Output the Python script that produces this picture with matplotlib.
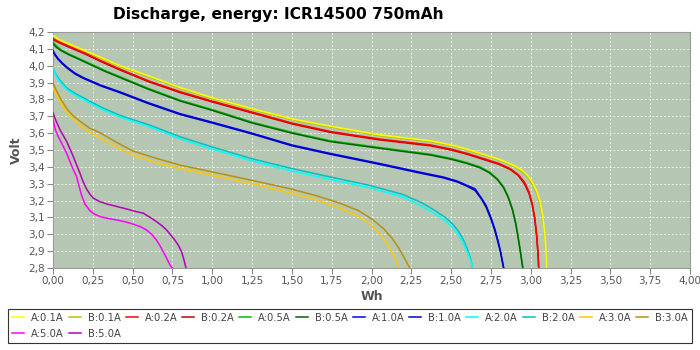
import matplotlib
matplotlib.use("Agg")
import matplotlib.pyplot as plt
from matplotlib.ticker import MultipleLocator, FuncFormatter

# series names / colours (legend order)
labels = ["A:0.1A", "B:0.1A", "A:0.2A", "B:0.2A", "A:0.5A", "B:0.5A",
          "A:1.0A", "B:1.0A", "A:2.0A", "B:2.0A", "A:3.0A", "B:3.0A",
          "A:5.0A", "B:5.0A"]
colors = ["#ffff00", "#c0c000", "#ff0000", "#c80000", "#00c000", "#006400",
          "#0000ff", "#0000c0", "#00ffff", "#00c0c0", "#ffc800", "#b8900c",
          "#ff00ff", "#b400b4"]

# energy (Wh) / voltage pairs
wh_01a = [0, 0.01, 0.03, 0.06, 0.1, 0.15, 0.2, 0.3, 0.42, 0.6, 0.8, 1.0, 1.25,
          1.5, 1.75, 2.05, 2.37, 2.5, 2.6, 2.7, 2.8, 2.88, 2.94, 2.98, 3.01,
          3.04, 3.06, 3.075, 3.088, 3.096, 3.10]
v_a01a = [4.18, 4.175, 4.16, 4.145, 4.13, 4.11, 4.09, 4.05, 4.00, 3.94, 3.87,
          3.81, 3.745, 3.685, 3.64, 3.59, 3.555, 3.53, 3.505, 3.475, 3.445,
          3.415, 3.385, 3.35, 3.31, 3.25, 3.19, 3.11, 3.00, 2.90, 2.80]
v_b01a = [4.175, 4.17, 4.155, 4.14, 4.125, 4.105, 4.085, 4.045, 3.995, 3.935,
          3.865, 3.805, 3.74, 3.68, 3.635, 3.585, 3.55, 3.525, 3.50, 3.47,
          3.44, 3.41, 3.375, 3.34, 3.295, 3.235, 3.17, 3.09, 2.98, 2.88, 2.80]

wh_02a = [0, 0.03, 0.1, 0.2, 0.3, 0.42, 0.6, 0.8, 1.0, 1.25, 1.5, 1.74, 2.05,
          2.37, 2.5, 2.6, 2.7, 2.8, 2.87, 2.92, 2.96, 2.99, 3.01, 3.025, 3.037,
          3.045, 3.05]
v_a02a = [4.16, 4.145, 4.115, 4.075, 4.03, 3.98, 3.91, 3.845, 3.79, 3.725,
          3.66, 3.61, 3.565, 3.53, 3.505, 3.48, 3.45, 3.42, 3.39, 3.355, 3.31,
          3.25, 3.18, 3.10, 3.00, 2.90, 2.80]
v_b02a = [4.155, 4.14, 4.11, 4.07, 4.025, 3.975, 3.905, 3.84, 3.785, 3.72,
          3.655, 3.605, 3.56, 3.525, 3.50, 3.475, 3.445, 3.415, 3.385, 3.35,
          3.30, 3.24, 3.17, 3.09, 2.99, 2.89, 2.80]

wh_05a = [0, 0.02, 0.05, 0.1, 0.17, 0.25, 0.33, 0.42, 0.6, 0.8, 1.0, 1.25,
          1.5, 1.74, 2.05, 2.37, 2.5, 2.6, 2.68, 2.74, 2.79, 2.83, 2.86, 2.885,
          2.905, 2.92, 2.935, 2.95]
v_a05a = [4.14, 4.12, 4.095, 4.07, 4.04, 4.005, 3.97, 3.935, 3.865, 3.795,
          3.74, 3.665, 3.605, 3.555, 3.515, 3.475, 3.45, 3.425, 3.40, 3.37,
          3.33, 3.28, 3.22, 3.15, 3.07, 2.99, 2.90, 2.80]
v_b05a = [4.13, 4.11, 4.09, 4.065, 4.035, 4.00, 3.965, 3.93, 3.86, 3.79,
          3.735, 3.66, 3.60, 3.55, 3.51, 3.47, 3.445, 3.42, 3.395, 3.365,
          3.325, 3.275, 3.215, 3.145, 3.065, 2.985, 2.895, 2.80]

wh_10a = [0, 0.015, 0.03, 0.06, 0.09, 0.14, 0.19, 0.30, 0.42, 0.6, 0.8, 1.0,
          1.25, 1.5, 1.74, 2.05, 2.32, 2.45, 2.54, 2.6, 2.65, 2.69, 2.72,
          2.75, 2.775, 2.795, 2.81, 2.82, 2.83]
v_a10a = [4.09, 4.065, 4.045, 4.015, 3.99, 3.955, 3.93, 3.885, 3.845, 3.78,
          3.715, 3.665, 3.60, 3.53, 3.48, 3.42, 3.365, 3.34, 3.315, 3.29, 3.27,
          3.215, 3.17, 3.10, 3.03, 2.96, 2.90, 2.85, 2.80]
v_b10a = [4.08, 4.06, 4.04, 4.01, 3.985, 3.95, 3.925, 3.88, 3.84, 3.775,
          3.71, 3.66, 3.595, 3.525, 3.475, 3.415, 3.36, 3.335, 3.31, 3.285,
          3.26, 3.21, 3.16, 3.09, 3.02, 2.95, 2.895, 2.845, 2.80]

wh_20a = [0, 0.01, 0.02, 0.05, 0.09, 0.14, 0.19, 0.30, 0.42, 0.6, 0.8, 1.0,
          1.25, 1.5, 1.74, 1.99, 2.2, 2.32, 2.4, 2.47, 2.51, 2.545, 2.57,
          2.59, 2.61, 2.625, 2.635]
v_a20a = [3.99, 3.96, 3.935, 3.895, 3.855, 3.825, 3.80, 3.745, 3.695, 3.64,
          3.565, 3.505, 3.435, 3.375, 3.325, 3.275, 3.22, 3.165, 3.12, 3.075,
          3.04, 3.00, 2.96, 2.92, 2.875, 2.835, 2.80]
v_b20a = [3.99, 3.965, 3.945, 3.905, 3.865, 3.835, 3.81, 3.755, 3.705, 3.65,
          3.578, 3.518, 3.448, 3.39, 3.34, 3.29, 3.235, 3.185, 3.14, 3.095,
          3.06, 3.02, 2.98, 2.94, 2.89, 2.845, 2.80]

wh_a30a = [0, 0.02, 0.05, 0.09, 0.13, 0.17, 0.23, 0.30, 0.4, 0.5, 0.65, 0.8,
           1.0, 1.25, 1.49, 1.65, 1.80, 1.9, 1.97, 2.03, 2.08, 2.12, 2.15, 2.17]
v_a30a = [3.87, 3.83, 3.775, 3.72, 3.68, 3.645, 3.605, 3.57, 3.515, 3.47,
          3.425, 3.39, 3.35, 3.30, 3.245, 3.205, 3.155, 3.115, 3.075, 3.025,
          2.97, 2.91, 2.855, 2.80]
wh_b30a = [0, 0.02, 0.05, 0.09, 0.13, 0.17, 0.23, 0.30, 0.4, 0.5, 0.65, 0.8,
           1.0, 1.25, 1.49, 1.65, 1.80, 1.92, 2.01, 2.08, 2.13, 2.17, 2.20,
           2.22, 2.24]
v_b30a = [3.90, 3.855, 3.80, 3.74, 3.70, 3.67, 3.63, 3.60, 3.545, 3.495,
          3.45, 3.41, 3.37, 3.32, 3.27, 3.23, 3.185, 3.14, 3.085, 3.03, 2.975,
          2.92, 2.87, 2.835, 2.80]

wh_a50a = [0, 0.015, 0.033, 0.06, 0.086, 0.12, 0.149, 0.165, 0.18, 0.2,
           0.232, 0.26, 0.295, 0.34, 0.40, 0.45, 0.504, 0.55, 0.588, 0.62,
           0.65, 0.67, 0.69, 0.71, 0.725, 0.74, 0.75]
v_a50a = [3.68, 3.62, 3.58, 3.53, 3.48, 3.40, 3.34, 3.28, 3.23, 3.18, 3.14,
          3.12, 3.105, 3.095, 3.085, 3.075, 3.06, 3.045, 3.025, 3.00, 2.965,
          2.935, 2.90, 2.865, 2.835, 2.81, 2.80]
wh_b50a = [0, 0.02, 0.044, 0.065, 0.086, 0.128, 0.17, 0.19, 0.21, 0.23,
           0.253, 0.29, 0.337, 0.40, 0.463, 0.52, 0.567, 0.61, 0.65, 0.685,
           0.714, 0.74, 0.766, 0.79, 0.808, 0.822, 0.835]
v_b50a = [3.72, 3.67, 3.62, 3.585, 3.55, 3.46, 3.36, 3.31, 3.27, 3.24, 3.215,
          3.195, 3.18, 3.165, 3.15, 3.135, 3.125, 3.10, 3.075, 3.05, 3.025,
          2.995, 2.965, 2.93, 2.895, 2.85, 2.80]

series = [
    (wh_01a, v_a01a), (wh_01a, v_b01a),
    (wh_02a, v_a02a), (wh_02a, v_b02a),
    (wh_05a, v_a05a), (wh_05a, v_b05a),
    (wh_10a, v_a10a), (wh_10a, v_b10a),
    (wh_20a, v_a20a), (wh_20a, v_b20a),
    (wh_a30a, v_a30a), (wh_b30a, v_b30a),
    (wh_a50a, v_a50a), (wh_b50a, v_b50a),
]
# drawing order so the brighter A curves stay visible where they overlap
zorders = [3.2, 3.0, 3.1, 3.0, 3.0, 3.1, 3.0, 3.1, 3.1, 3.0, 3.0, 3.0, 3.0, 3.0]

fig = plt.figure(figsize=(7, 3.5), dpi=100)
ax = fig.add_axes([53 / 700, 1 - 268 / 350, 637 / 700, 236 / 350])
ax.set_facecolor("#b5c7b2")

handles = []
for (x, y), lab, col, z in zip(series, labels, colors, zorders):
    h, = ax.plot(x, y, color=col, lw=1.1, label=lab, zorder=z,
                 solid_joinstyle="round")
    handles.append(h)

ax.set_xlim(0, 4.0)
ax.set_ylim(2.8, 4.2)
ax.xaxis.set_major_locator(MultipleLocator(0.25))
ax.yaxis.set_major_locator(MultipleLocator(0.1))
ax.xaxis.set_major_formatter(FuncFormatter(lambda v, p: f"{v:.2f}".replace(".", ",")))
ax.yaxis.set_major_formatter(FuncFormatter(lambda v, p: f"{v:.1f}".replace(".", ",")))
ax.grid(True, color="white", ls=(0, (2, 2)), lw=0.7, alpha=0.7)
ax.tick_params(colors="#888888", labelcolor="#555555", labelsize=7.5, length=4,
               width=0.8, pad=2)
for s in ax.spines.values():
    s.set_color("#999999")

ax.set_xlabel("Wh", fontsize=9, fontweight="bold", color="#555555", labelpad=3)
ax.set_ylabel("Volt", fontsize=9, fontweight="bold", color="#555555", labelpad=4)
fig.text(0.397, 0.958, "Discharge, energy: ICR14500 750mAh", ha="center",
         va="center", fontsize=11.2, fontweight="bold")

# legend: 12 per row, row-major -> reorder for matplotlib's column-major fill
order = [0, 12, 1, 13] + list(range(2, 12))
leg = fig.legend([handles[i] for i in order], [labels[i] for i in order],
                 loc="lower left", bbox_to_anchor=(0.0043, 0.006, 0.9914, 0.108),
                 mode="expand", ncol=12, fontsize=7.2, handlelength=1.2,
                 handletextpad=0.7, columnspacing=0.5, borderpad=0.4,
                 labelspacing=0.6, fancybox=False, framealpha=1)
leg.get_frame().set_edgecolor("#333333")
leg.get_frame().set_linewidth(0.8)
for t in leg.get_texts():
    t.set_color("#444444")

fig.savefig("out.png", dpi=100)
